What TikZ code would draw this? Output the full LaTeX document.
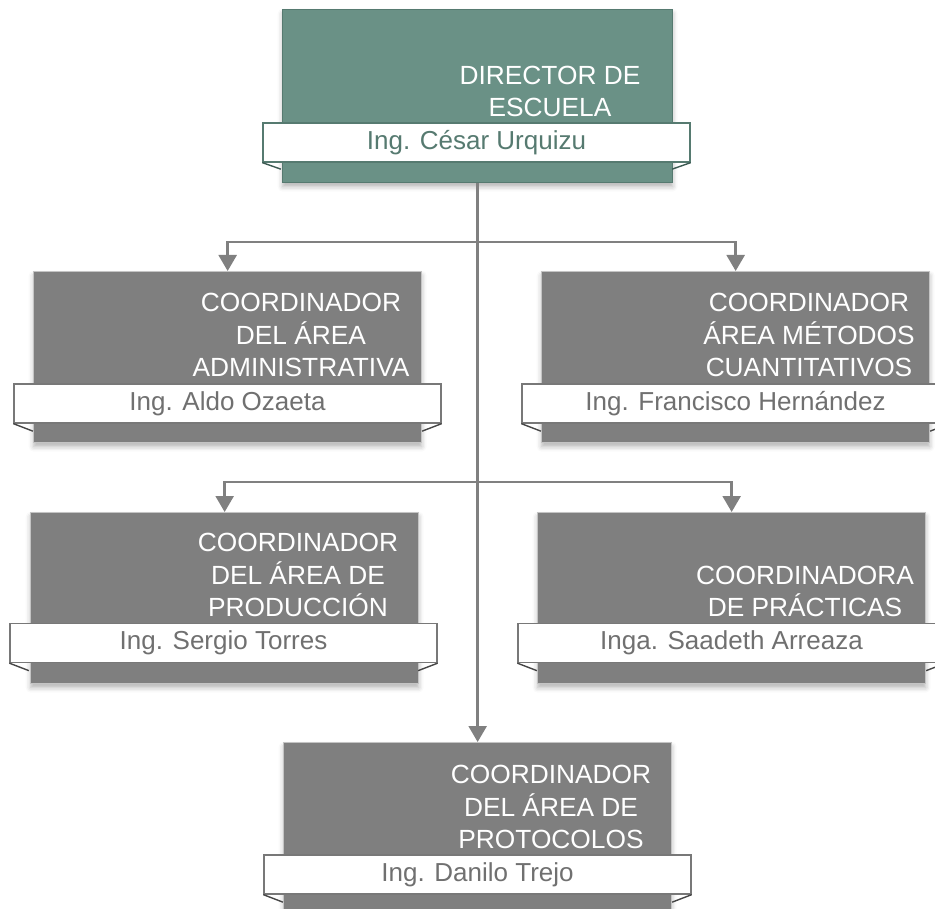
\documentclass[tikz,border=0pt]{standalone}
\usepackage{fontspec}
\setmainfont{Liberation Sans}
\usetikzlibrary{arrows.meta,shadows.blur}

\definecolor{dirfill}{RGB}{106,145,134}
\definecolor{dirline}{RGB}{86,122,112}
\definecolor{dirfold}{RGB}{60,90,82}
\definecolor{boxfill}{RGB}{127,127,127}
\definecolor{boxline}{RGB}{196,196,196}
\definecolor{tagline}{RGB}{120,120,120}
\definecolor{tagtext}{RGB}{112,112,112}
\definecolor{foldline}{RGB}{70,70,70}
\definecolor{linkgray}{RGB}{128,128,128}

\tikzset{
  unitbox/.style={draw=boxline, line width=1.3pt, fill=boxfill,
    minimum width=388pt, minimum height=171pt, anchor=north west, inner sep=0pt,
    blur shadow={shadow xshift=0pt, shadow yshift=-4pt, shadow blur radius=5pt, shadow opacity=30}},
  headbox/.style={unitbox, draw=dirline, fill=dirfill,
    minimum width=390pt, minimum height=173pt},
  title/.style={text=white, align=center, anchor=south, inner sep=0pt,
    font=\fontsize{26.3}{32.5}\selectfont},
  nametag/.style={draw=tagline, line width=1.3pt, fill=white, text=tagtext,
    minimum width=427pt, minimum height=39pt, inner sep=0pt,
    font=\fontsize{26}{30}\selectfont},
  headtag/.style={nametag, draw=dirline, text=dirline},
  fold/.style={draw=foldline, line width=1.4pt},
  headfold/.style={fold, draw=dirfold},
  link/.style={draw=linkgray, line width=2.5pt,
    -{Triangle[width=18pt,length=16pt]}}
}

\begin{document}
\begin{tikzpicture}[x=1pt,y=-1pt]
  \useasboundingbox (0,0) rectangle (935,909);

  % unit boxes
  \node[headbox] (dir)  at (282,9)   {};
  \node[unitbox] (adm)  at (33,271)  {};
  \node[unitbox] (met)  at (541,271) {};
  \node[unitbox] (prod) at (30,512)  {};
  \node[unitbox] (prac) at (537,512) {};
  \node[unitbox] (prot) at (283,742) {};

  % junctions on the main trunk
  \coordinate (j1) at (477,242);
  \coordinate (j2) at (477,482);

  % connectors
  \draw[link] (dir.south) -- (prot.north);
  \draw[link] (j1) -| (adm.north);
  \draw[link] (j1) -| (met.north);
  \draw[link] (j2) -| (prod.north);
  \draw[link] (j2) -| (prac.north);

  % titles
  \node[title] (dirtxt)  at (550,117) {DIRECTOR DE\\ESCUELA};
  \node[title] (admtxt)  at (301,377) {COORDINADOR\\DEL ÁREA\\ADMINISTRATIVA};
  \node[title] (mettxt)  at (809,377) {COORDINADOR\\ÁREA MÉTODOS\\CUANTITATIVOS};
  \node[title] (prodtxt) at (298,617) {COORDINADOR\\DEL ÁREA DE\\PRODUCCIÓN};
  \node[title] (practxt) at (805,617) {COORDINADORA\\DE PRÁCTICAS};
  \node[title] (prottxt) at (551,849) {COORDINADOR\\DEL ÁREA DE\\PROTOCOLOS};

  % name tags
  \node[headtag] (dirtag)  at (476.5,142.5) {Ing. César Urquizu};
  \node[nametag] (admtag)  at (227.5,403.5) {Ing. Aldo Ozaeta};
  \node[nametag] (mettag)  at (735.5,403.5) {Ing. Francisco Hernández};
  \node[nametag] (prodtag) at (223.5,643)   {Ing. Sergio Torres};
  \node[nametag] (practag) at (731.5,643)   {Inga. Saadeth Arreaza};
  \node[nametag] (prottag) at (477.5,874.5) {Ing. Danilo Trejo};

  % ribbon folds under the tags
  \draw[headfold] (dirtag.south west) -- ++(18.5,6.5);
  \draw[headfold] (dirtag.south east) -- ++(-18.5,6.5);
  \foreach \t in {admtag,mettag,prodtag,practag,prottag}{
    \draw[fold] (\t.south west) -- ++(19.5,7.5);
    \draw[fold] (\t.south east) -- ++(-19.5,7.5);
  }
\end{tikzpicture}
\end{document}
